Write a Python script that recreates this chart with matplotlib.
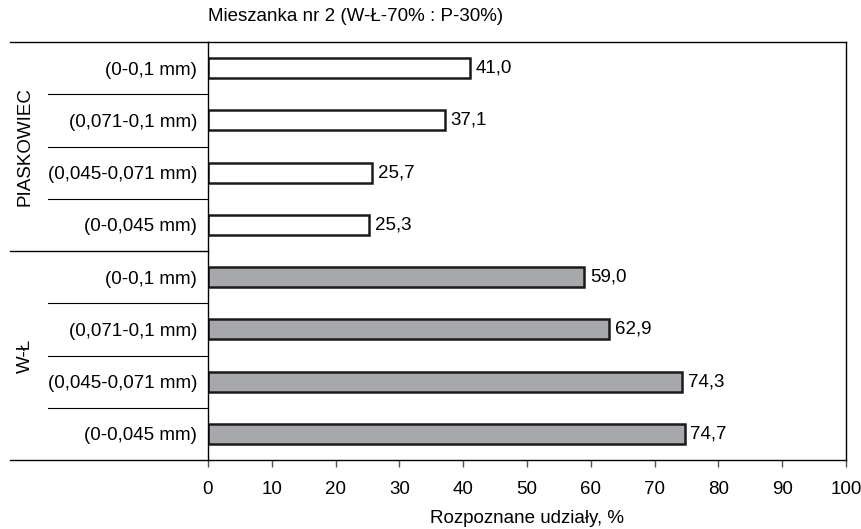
import matplotlib
matplotlib.use('Agg')
import matplotlib.pyplot as plt
import matplotlib.transforms as mtransforms
import numpy as np

plt.rcParams['font.family'] = ['Liberation Sans', 'DejaVu Sans']
plt.rcParams['font.size'] = 13.5

title = 'Mieszanka nr 2 (W-Ł-70% : P-30%)'
xlabel = 'Rozpoznane udziały, %'
groups = ['PIASKOWIEC', 'W-Ł']
fractions = ['(0-0,1 mm)', '(0,071-0,1 mm)', '(0,045-0,071 mm)', '(0-0,045 mm)']
piaskowiec = [41.0, 37.1, 25.7, 25.3]
wl = [59.0, 62.9, 74.3, 74.7]
xticks = [0, 10, 20, 30, 40, 50, 60, 70, 80, 90, 100]

values = piaskowiec + wl
labels = fractions + fractions
colors = ['white'] * len(piaskowiec) + ['#a7a8ac'] * len(wl)
y = np.arange(len(values))

fig = plt.figure(figsize=(8.62, 5.29), dpi=100)
fig.patch.set_facecolor('white')
ax = fig.add_axes([208 / 862, 1 - 460 / 529, 638 / 862, 418 / 529])

ax.barh(y, values, height=0.38, color=colors, edgecolor='#1a1a1a', linewidth=1.8)
for yi, v in zip(y, values):
    ax.text(v + 0.9, yi, f'{v:.1f}'.replace('.', ','), va='center', ha='left')

ax.set_xlim(0, 100)
ax.set_ylim(len(values) - 0.5, -0.5)
ax.set_xticks(xticks)
ax.set_yticks(y)
ax.set_yticklabels(labels)
ax.tick_params(axis='y', length=0, pad=8)
ax.tick_params(axis='x', direction='out', length=5, width=1, color='#555555', pad=10)
for s in ax.spines.values():
    s.set_linewidth(1)
ax.set_xlabel(xlabel, labelpad=9)
ax.text(0, 1.04, title, transform=ax.transAxes, ha='left', va='bottom')

# separators of the category axis
trans = mtransforms.blended_transform_factory(ax.transAxes, ax.transData)
n = len(fractions)
outer = -198 / 638
inner = -160 / 638
for k in range(len(groups) + 1):
    yb = k * n - 0.5
    ax.plot([outer, 0], [yb, yb], color='black', lw=1, transform=trans, clip_on=False)
for k in range(len(groups)):
    for j in range(1, n):
        yb = k * n + j - 0.5
        ax.plot([inner, 0], [yb, yb], color='black', lw=0.8, transform=trans, clip_on=False)
    ax.text(outer + 15 / 638, k * n + (n - 1) / 2, groups[k], rotation=90,
            ha='center', va='center', transform=trans)

fig.savefig('out.png', dpi=100)
